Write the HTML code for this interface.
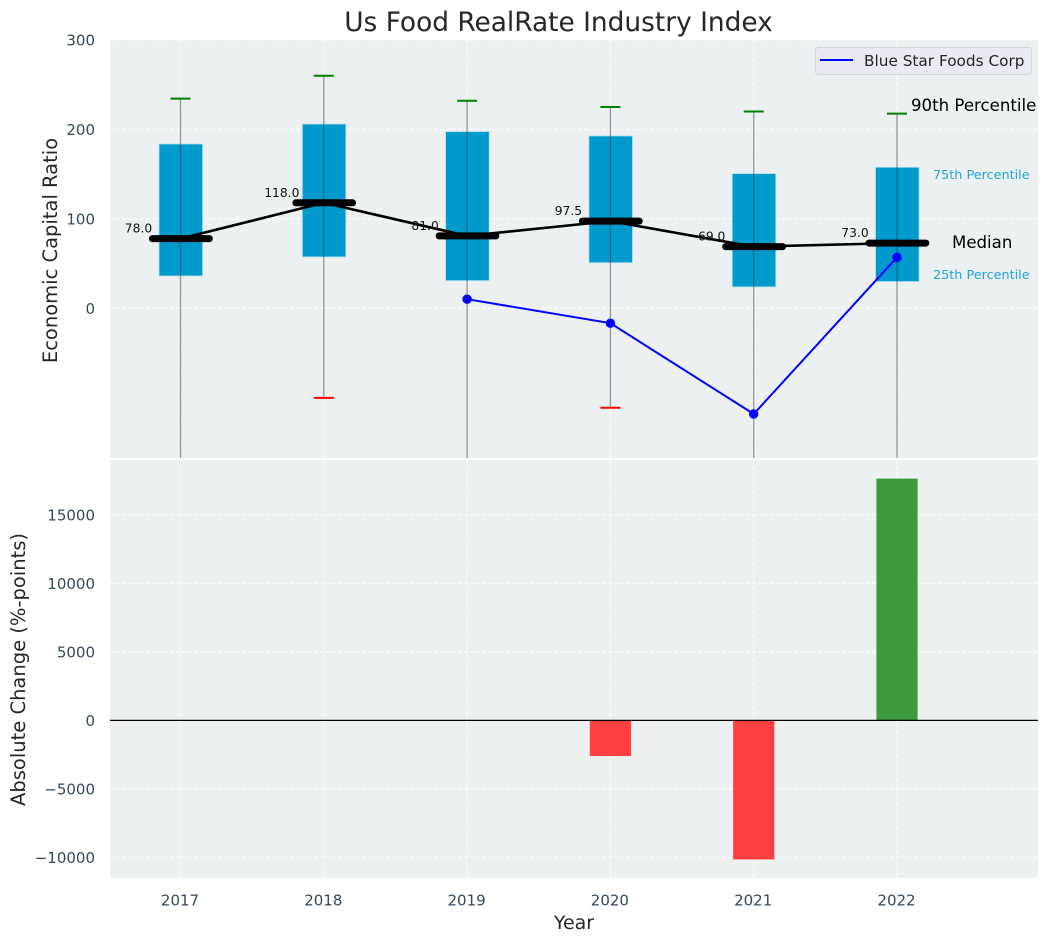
<!DOCTYPE html>
<html lang="en">
<head>
<meta charset="utf-8">
<title>Us Food RealRate Industry Index</title>
<style>
html,body{margin:0;padding:0;background:#fff;}
svg{display:block;font-family:"DejaVu Sans","Liberation Sans",sans-serif;}
</style>
</head>
<body>
<svg id="chart" xmlns="http://www.w3.org/2000/svg" width="1048" height="942" viewBox="0 0 1048 942">
  <defs>
    <clipPath id="clip-top"><rect x="110" y="40" width="928" height="418"/></clipPath>
    <clipPath id="clip-bottom"><rect x="110" y="460" width="928" height="418"/></clipPath>
  </defs>
  <rect x="110" y="40" width="928" height="418" fill="#ecf0f1"/>
  <rect x="110" y="460" width="928" height="418" fill="#ecf0f1"/>
  <g id="grid-layer"></g>
  <g id="top-marks" clip-path="url(#clip-top)"></g>
  <g id="bottom-marks" clip-path="url(#clip-bottom)"></g>
  <g id="tick-layer"></g>
  <g id="median-label-layer"></g>

  <text x="558.5" y="31" text-anchor="middle" font-size="26.4px" fill="#262626">Us Food RealRate Industry Index</text>
  <text transform="translate(57,250.5) rotate(-90)" text-anchor="middle" font-size="19.5px" fill="#262626">Economic Capital Ratio</text>
  <text transform="translate(25,669.5) rotate(-90)" text-anchor="middle" font-size="19.5px" fill="#262626">Absolute Change (%-points)</text>
  <text x="574" y="929" text-anchor="middle" font-size="19px" fill="#262626">Year</text>

  <g>
    <rect x="815.5" y="47.5" width="216" height="27" rx="3" fill="#eaeaf2" stroke="#d4d6da" stroke-width="1"/>
    <line x1="820" y1="60" x2="853" y2="60" stroke="#0000ff" stroke-width="2"/>
    <text x="864" y="66" font-size="15.3px" fill="#262626">Blue Star Foods Corp</text>
  </g>

  <text x="911" y="111" font-size="16.6px" fill="#000">90th Percentile</text>
  <text x="933" y="179" font-size="12.8px" fill="#1fa5d3">75th Percentile</text>
  <text x="952" y="248" font-size="16.6px" fill="#000">Median</text>
  <text x="933" y="279" font-size="12.8px" fill="#1fa5d3">25th Percentile</text>
</svg>
<script>
const years = [2017, 2018, 2019, 2020, 2021, 2022];
const p90 = [234.4, 260, 232, 225, 220, 217.6];
const p75 = [183.7, 206, 197.5, 192.7, 150.6, 157.7];
const medians = [78, 118, 81, 97.5, 69, 73];
const p25 = [36.3, 57.5, 31, 51, 24, 30];
const p10 = [-300, -100, -250, -111, -300, -250];
const companyValues = [null, null, 10.3, -16.5, -118, 57];
const absoluteChange = [null, null, null, -2600, -10150, 17650];
const topTicks = [0, 100, 200, 300];
const bottomTicks = [-10000, -5000, 0, 5000, 10000, 15000];

const SVGNS = 'http://www.w3.org/2000/svg';
const gridLayer = document.getElementById('grid-layer');
const topMarks = document.getElementById('top-marks');
const bottomMarks = document.getElementById('bottom-marks');
const tickLayer = document.getElementById('tick-layer');
const medianLabelLayer = document.getElementById('median-label-layer');

function xScale(year) { return 180.5 + (year - 2017) * 143.3; }
function yTop(v) { return 308.4 - v * 0.895; }
function yBottom(v) { return 720.4 - v * 0.0137; }

function make(tag, parent, props) {
  const el = document.createElementNS(SVGNS, tag);
  Object.keys(props).forEach(function (k) { el.setAttribute(k, props[k]); });
  parent.appendChild(el);
  return el;
}

/* grid lines */
years.forEach(function (yr) {
  const x = xScale(yr);
  const a = make('line', gridLayer, { x1: x, x2: x, y1: 40, y2: 458, stroke: '#fff', 'stroke-width': 1, 'stroke-dasharray': '4 2', opacity: 0.9 });
  
  
  const b = make('line', gridLayer, { x1: x, x2: x, y1: 460, y2: 878, stroke: '#fff', 'stroke-width': 1, 'stroke-dasharray': '4 2', opacity: 0.9 });
  
  
  const t = make('text', tickLayer, { x: x - 0.5, y: 905.5, 'text-anchor': 'middle', 'font-size': '15px', fill: '#34495e' });
  t.textContent = String(yr);
  
  
});
topTicks.forEach(function (v) {
  const y = yTop(v);
  const g = make('line', gridLayer, { x1: 110, x2: 1038, y1: y, y2: y, stroke: '#fff', 'stroke-width': 1, 'stroke-dasharray': '4 2', opacity: 0.9 });
  
  
  const t = make('text', tickLayer, { x: 95, y: y + 5.5, 'text-anchor': 'end', 'font-size': '15px', fill: '#34495e' });
  t.textContent = String(v);
  
  
});
bottomTicks.forEach(function (v) {
  const y = yBottom(v);
  const g = make('line', gridLayer, { x1: 110, x2: 1038, y1: y, y2: y, stroke: '#fff', 'stroke-width': 1, 'stroke-dasharray': '4 2', opacity: 0.9 });
  
  
  const t = make('text', tickLayer, { x: 95, y: y + 5.5, 'text-anchor': 'end', 'font-size': '15px', fill: '#34495e' });
  t.textContent = String(v).replace('-', '\u2212');
  
  
});

/* interquartile boxes */
years.forEach(function (yr, i) {
  const x = xScale(yr);
  const box = make('rect', topMarks, { x: x - 21.5, width: 43.6, y: yTop(p75[i]), height: yTop(p25[i]) - yTop(p75[i]), fill: '#009bcc', stroke: '#b5e0ee', 'stroke-width': 0.8 });
  
  
});

/* whiskers and caps */
years.forEach(function (yr, i) {
  const x = xScale(yr);
  const w = make('line', topMarks, { x1: x, x2: x, y1: yTop(p90[i]), y2: yTop(p10[i]), stroke: '#2f3a3a', 'stroke-opacity': 0.5, 'stroke-width': 1.3 });
  
  
  const up = make('line', topMarks, { x1: x - 10, x2: x + 10, y1: yTop(p90[i]), y2: yTop(p90[i]), stroke: '#008000', 'stroke-width': 2 });
  
  
  const lo = make('line', topMarks, { x1: x - 10, x2: x + 10, y1: yTop(p10[i]), y2: yTop(p10[i]), stroke: '#ff0000', 'stroke-width': 2 });
  
  
});

/* median connecting line */
const medianPath = make('polyline', topMarks, {
  points: years.map(function (yr, i) { return xScale(yr) + ',' + yTop(medians[i]); }).join(' '),
  fill: 'none', stroke: '#000', 'stroke-width': 2.6
});



/* median bars and labels */
years.forEach(function (yr, i) {
  const x = xScale(yr);
  const y = yTop(medians[i]);
  const m = make('line', topMarks, { x1: x - 28, x2: x + 28.8, y1: y, y2: y, stroke: '#000', 'stroke-width': 7, 'stroke-linecap': 'round' });
  
  
  const t = make('text', medianLabelLayer, { x: x - 42, y: y - 6, 'text-anchor': 'middle', 'font-size': '12.3px', fill: '#111' });
  t.textContent = medians[i].toFixed(1);
  
  
});

/* company series */
const companyPoints = [];
years.forEach(function (yr, i) {
  if (companyValues[i] !== null) companyPoints.push(xScale(yr) + ',' + yTop(companyValues[i]));
});
const companyLine = make('polyline', topMarks, { points: companyPoints.join(' '), fill: 'none', stroke: '#0000ff', 'stroke-width': 2 });


years.forEach(function (yr, i) {
  if (companyValues[i] === null) return;
  const p = make('circle', topMarks, { cx: xScale(yr), cy: yTop(companyValues[i]), r: 4.7, fill: '#0000ff' });
  
  
});

/* absolute change bars */
years.forEach(function (yr, i) {
  const v = absoluteChange[i];
  if (v === null) return;
  const y0 = yBottom(0);
  const y1 = yBottom(v);
  const bar = make('rect', bottomMarks, { x: xScale(yr) - 20.6, width: 41.2, y: Math.min(y0, y1), height: Math.abs(y1 - y0), fill: v >= 0 ? '#3d9b3d' : '#ff4040' });
  
  
});
const zeroLine = make('line', bottomMarks, { x1: 110, x2: 1038, y1: yBottom(0), y2: yBottom(0), stroke: '#000', 'stroke-width': 1.3 });


</script>
</body>
</html>
